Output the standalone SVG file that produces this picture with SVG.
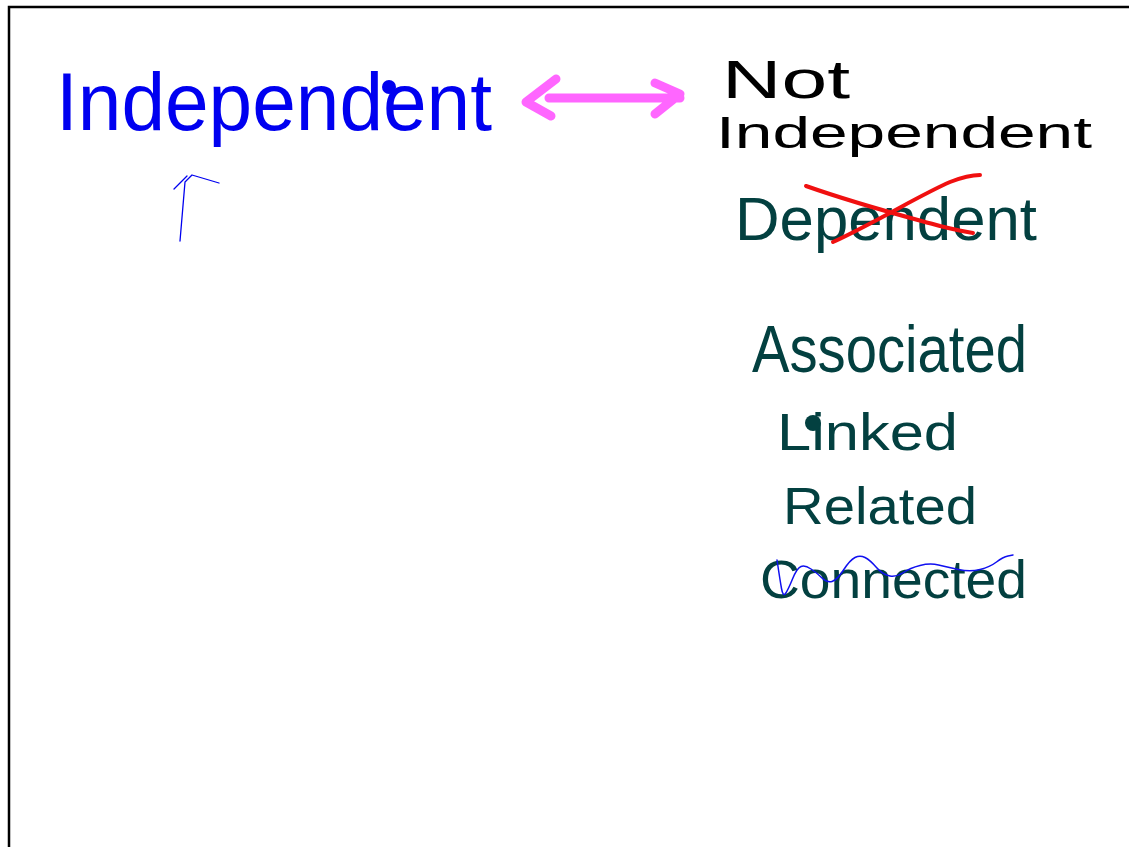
<svg xmlns="http://www.w3.org/2000/svg" width="1129" height="847" viewBox="0 0 1129 847">
<style>
.hand{font-family:"Liberation Sans","DejaVu Sans",sans-serif;}
.blue{fill:#0000f0;}
.black{fill:#000;}
.teal{fill:#034040;}
.ink{fill:none;stroke-linecap:round;stroke-linejoin:round;}
</style>
<rect x="0" y="0" width="1129" height="847" fill="#fff"/>
<path d="M9,847 V7 H1129" fill="none" stroke="#000" stroke-width="2.5"/>
<g id="independent">
<text class="hand blue" x="56" y="130" font-size="82" textLength="436" lengthAdjust="spacingAndGlyphs">Independent</text>
<circle cx="389" cy="87" r="7" fill="#0000f0"/>
</g>
<g id="not-independent">
<text class="hand black" x="722" y="98" font-size="54" textLength="128" lengthAdjust="spacingAndGlyphs">Not</text>
<text class="hand black" x="716" y="148" font-size="45" textLength="376" lengthAdjust="spacingAndGlyphs">Independent</text>
</g>
<g id="dependent">
<text class="hand teal" x="735" y="240" font-size="62" textLength="302" lengthAdjust="spacingAndGlyphs">Dependent</text>
<path class="ink" stroke="#f01010" stroke-width="4" d="M806,186 C860,205 900,215 940,226 Q960,231 973,233"/>
<path class="ink" stroke="#f01010" stroke-width="4" d="M833,242 C880,220 920,195 950,182 Q968,175 980,175"/>
</g>
<g id="associated">
<text class="hand teal" x="752" y="372" font-size="66" textLength="275" lengthAdjust="spacingAndGlyphs">Associated</text>
</g>
<g id="linked">
<text class="hand teal" x="777" y="450" font-size="52" textLength="181" lengthAdjust="spacingAndGlyphs">Linked</text>
<circle cx="813" cy="423" r="8" fill="#034040"/>
</g>
<g id="related">
<text class="hand teal" x="783" y="524" font-size="52" textLength="194" lengthAdjust="spacingAndGlyphs">Related</text>
</g>
<g id="connected">
<text class="hand teal" x="760" y="598" font-size="54" textLength="267" lengthAdjust="spacingAndGlyphs">Connected</text>
<path class="ink" stroke="#1010f0" stroke-width="1.5" d="M777,560 Q780,580 781.5,588.5 Q783,597 785.5,593.5 Q788,590 792.5,579 Q797,568 801,566.5 Q805,565 811,569 Q817,573 822,578 Q827,583 832,581.5 Q837,580 843.5,570 Q850,560 855,557.5 Q860,555 865,557.5 Q870,560 876.5,567.5 Q883,575 890,576 Q897,577 903.5,572.5 Q910,568 920,565.5 Q930,563 938.5,565 Q947,567 958.5,569.5 Q970,572 980,569.5 Q990,567 996.5,562 Q1003,557 1008,556 L1013,555"/>
</g>
<g id="connectors">
<path class="ink" stroke="#ff55ff" stroke-opacity="0.9" stroke-width="9" d="M549,98 H680 M556,79 L526,102 L551,116 M655,83 L680,94 L655,114"/>
<path class="ink" stroke="#0000f0" stroke-width="1.3" d="M180,241 L185,182 L192,175 L219,183 M174,189 L187,176"/>
</g>
</svg>
